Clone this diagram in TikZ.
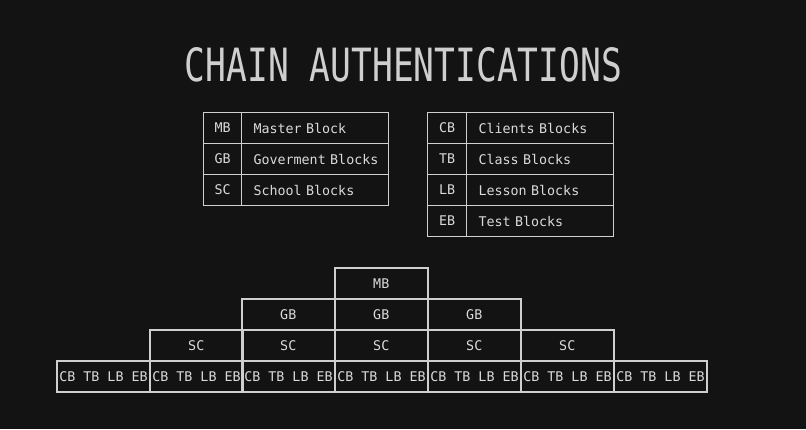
\documentclass[tikz,border=0pt]{standalone}
\usepackage{fontspec}
\setmonofont{DejaVu Sans Mono}
\usepackage{graphicx}
\definecolor{bg}{HTML}{131313}
\definecolor{ln}{HTML}{CFCFCF}
\definecolor{tx}{HTML}{DADADA}
\begin{document}
\begin{tikzpicture}[x=0.75pt,y=-0.75pt,
  every node/.style={font=\ttfamily\fontsize{10pt}{12pt}\selectfont, text=tx},
  cell/.style={draw=ln, line width=0.8pt, inner sep=0pt, minimum height=23.25pt, anchor=north west},
  abbr/.style={cell, minimum width=28.5pt},
  desc/.style={cell, minimum width=110.25pt, text width=92.25pt, inner xsep=9pt, align=left},
  pyr/.style={draw=ln, line width=1.3pt, inner sep=0pt, minimum width=69.6pt, minimum height=23.25pt, anchor=north west},
  base/.style={pyr, line width=1.6pt}]
\fill[bg] (0,0) rectangle (806,429);
\useasboundingbox (0,0) rectangle (806,429);
% title
\node[text=ln] (title) at (403.5,65) {\resizebox{327.75pt}{25.5pt}{\ttfamily CHAIN AUTHENTICATIONS}};
% left table
\node[abbr] (mb) at (203,112) {MB};
\node[desc] (mbd) at (241,112) {\mbox{Master Block}};
\node[abbr] (gb) at (203,143) {GB};
\node[desc] (gbd) at (241,143) {\mbox{Goverment Blocks}};
\node[abbr] (sc) at (203,174) {SC};
\node[desc] (scd) at (241,174) {\mbox{School Blocks}};
% right table
\node[abbr, minimum width=29.25pt] (cb) at (427,112) {CB};
\node[desc, minimum width=109.5pt] (cbd) at (466,112) {\mbox{Clients Blocks}};
\node[abbr, minimum width=29.25pt] (tb) at (427,143) {TB};
\node[desc, minimum width=109.5pt] (tbd) at (466,143) {\mbox{Class Blocks}};
\node[abbr, minimum width=29.25pt] (lb) at (427,174) {LB};
\node[desc, minimum width=109.5pt] (lbd) at (466,174) {\mbox{Lesson Blocks}};
\node[abbr, minimum width=29.25pt] (eb) at (427,205) {EB};
\node[desc, minimum width=109.5pt] (ebd) at (466,205) {\mbox{Test Blocks}};
% pyramid
\node[pyr] (p0) at (334,267) {MB};
\foreach \i/\x in {1/241,2/334,3/427}{\node[pyr] (g\i) at (\x,298) {GB};}
\foreach \i/\x in {1/149,2/241,3/334,4/427,5/520}{\node[pyr] (s\i) at (\x,329) {SC};}
\foreach \i/\x in {1/56,2/149,3/241,4/334,5/427,6/520,7/613}{\node[base] (c\i) at (\x,360) {CB TB LB EB};}
\end{tikzpicture}
\end{document}
